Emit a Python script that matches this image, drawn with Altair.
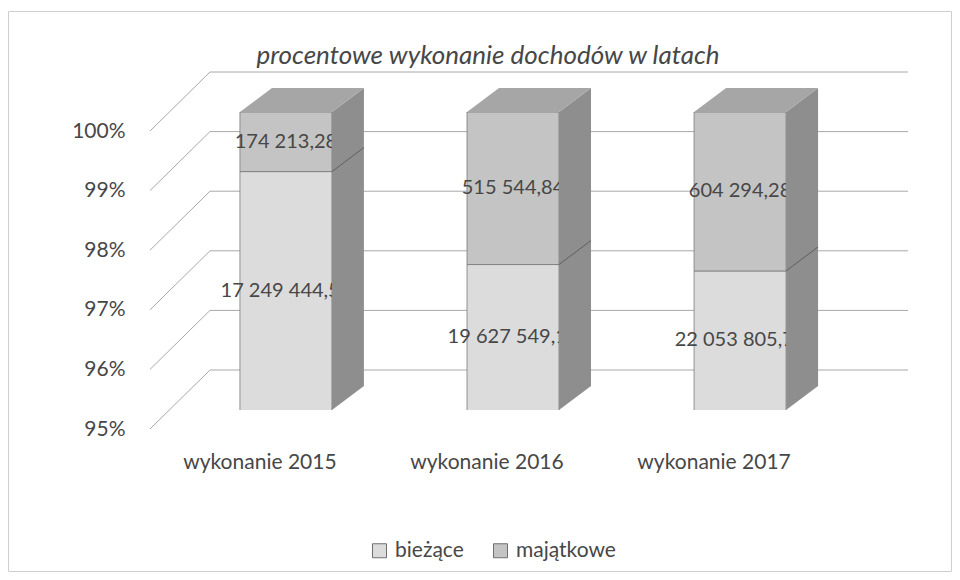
import altair as alt
import pandas as pd

categories = ["wykonanie 2015", "wykonanie 2016", "wykonanie 2017"]
biezace = [17249444.53, 19627549.13, 22053805.72]
majatkowe = [174213.28, 515544.84, 604294.28]
series = ["bieżące", "majątkowe"]
ticks = [0.95, 0.96, 0.97, 0.98, 0.99, 1.00]
title_text = "procentowe wykonanie  dochodów w latach"

FONT = "Lato"
TXT = "#474747"
GRID = "#a8a8a8"


def pl(v):
    s = f"{v:,.2f}"
    return s.replace(",", " ").replace(".", ",")


rows = []
bars_rows = []
for i, c in enumerate(categories):
    tot = biezace[i] + majatkowe[i]
    share = biezace[i] / tot
    rows.append(dict(cat=c, series=series[0], order=0, value=biezace[i],
                     label=pl(biezace[i]), mid=(ticks[0] + share) / 2))
    rows.append(dict(cat=c, series=series[1], order=1, value=majatkowe[i],
                     label=pl(majatkowe[i]), mid=(share + 1) / 2))
    bars_rows.append(dict(cat=c, top=1.0, share=share))
df = pd.DataFrame(rows)
bars_df = pd.DataFrame(bars_rows)
tick_df = pd.DataFrame({"t": ticks})
one = pd.DataFrame({"a": [0]})

yscale = alt.Scale(domain=[0.95, 1.0], nice=False, zero=False)
yaxis = alt.Axis(values=ticks, format=".0%", title=None, grid=False, ticks=False,
                 domain=False, labelPadding=25, labelOffset=19, labelFont=FONT,
                 labelFontSize=21, labelColor=TXT)
xaxis = alt.Axis(title=None, labelFont=FONT, labelFontSize=21, labelColor=TXT,
                 labelPadding=41, labelOffset=-26, ticks=False, domain=False,
                 labelAngle=0)
xscale = alt.Scale(paddingInner=0.5947, paddingOuter=0.396)


def X():
    return alt.X("cat:N", sort=categories, scale=xscale, axis=xaxis)


def Y(field, **kw):
    return alt.Y(field, scale=yscale, axis=yaxis, **kw)


frame = alt.Chart(one).mark_rect(fillOpacity=0, stroke="#cfcfcf", strokeWidth=1).encode(
    x=alt.value(-141.5), x2=alt.value(801.5), y=alt.value(-100.5), y2=alt.value(459.5)
)

diag = alt.Chart(tick_df).mark_rule(color=GRID, strokeWidth=1, yOffset=19, y2Offset=-40).encode(
    x=alt.value(0), x2=alt.value(60),
    y=Y("t:Q"), y2="t:Q",
)
back = alt.Chart(tick_df).mark_rule(color=GRID, strokeWidth=1, yOffset=-40).encode(
    x=alt.value(60), x2=alt.value(758),
    y=Y("t:Q"),
)

bars = alt.Chart(df).mark_bar(width=92, clip=True, stroke="#7a7a7a", strokeWidth=0.8).encode(
    x=X(),
    y=Y("value:Q", stack="normalize"),
    color=alt.Color("series:N", sort=series,
                    scale=alt.Scale(domain=series, range=["#dcdcdc", "#c4c4c4"]),
                    legend=alt.Legend(title=None, orient="none", legendX=219, legendY=428,
                                      direction="horizontal", symbolType="square",
                                      symbolSize=196, symbolStrokeColor="#6f6f6f",
                                      symbolStrokeWidth=1, labelFont=FONT, labelFontSize=21,
                                      labelColor=TXT, labelOffset=5, columnPadding=26)),
    order=alt.Order("order:Q"),
)

labels = alt.Chart(df).mark_text(font=FONT, fontSize=20, color=TXT).encode(
    x=X(),
    y=Y("mid:Q"),
    text="label:N",
)

side = alt.Chart(bars_df).mark_point(
    shape="M46,0L78,-24L78,274L46,298Z", size=4, filled=True, color="#8e8e8e",
    opacity=1, strokeWidth=0,
).encode(x=X(), y=Y("top:Q"))

top = alt.Chart(bars_df).mark_point(
    shape="M-46,0L-14,-24L78,-24L46,0Z", size=4, filled=True, color="#a6a6a6",
    opacity=1, strokeWidth=0,
).encode(x=X(), y=Y("top:Q"))

side_line = alt.Chart(bars_df).mark_point(
    shape="M46,0L78,-24", size=4, filled=False, color="#5f5f5f", opacity=1, strokeWidth=1,
).encode(x=X(), y=Y("share:Q"))

chart = alt.layer(frame, diag, back, bars, labels, side, top, side_line).properties(
    width=726, height=298,
    title=alt.TitleParams(title_text, font=FONT, fontSize=26, fontStyle="italic",
                          fontWeight="normal", color=TXT, anchor="middle", dx=-25,
                          offset=-58),
    autosize=alt.AutoSizeParams(type="none"),
    padding={"left": 142, "top": 104, "right": 76, "bottom": 162},
    background="white",
).configure_view(stroke=None)

chart.save("out.html", embed_options={"renderer": "svg", "actions": False})
